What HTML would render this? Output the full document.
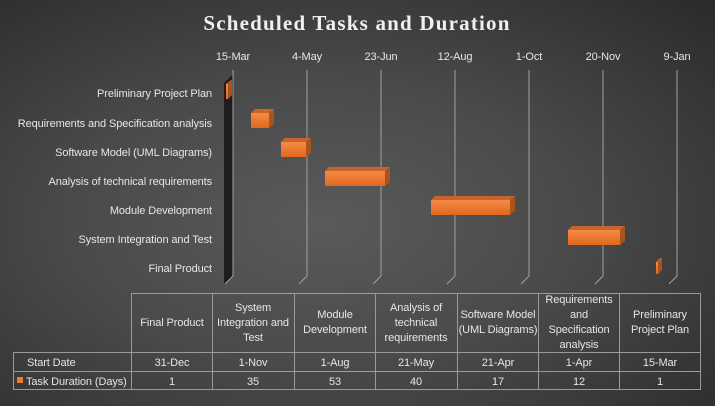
<!DOCTYPE html>
<html><head><meta charset="utf-8"><style>
html,body{margin:0;padding:0;}
body{width:715px;height:406px;overflow:hidden;background:radial-gradient(ellipse at 45% 55%,#5a5a5a 0%,#4a4a4a 45%,#333 85%,#2a2a2a 100%);font-family:"Liberation Sans",sans-serif;}
svg{position:absolute;left:0;top:0;}
text{fill:#e6e6e6;font-family:"Liberation Sans",sans-serif;font-size:11px;letter-spacing:-0.1px;}
</style></head><body>
<svg width="715" height="406" viewBox="0 0 715 406">
<defs>
<linearGradient id="bf" x1="0" y1="0" x2="0" y2="1"><stop offset="0" stop-color="#f58a48"/><stop offset="1" stop-color="#e0681c"/></linearGradient>
</defs>
<text x="357" y="30" text-anchor="middle" style="font-family:'Liberation Serif',serif;font-weight:bold;font-size:21px;letter-spacing:1.2px;fill:#f0f0f0">Scheduled Tasks and Duration</text>
<g text-anchor="middle">
<text x="233" y="60">15-Mar</text><text x="307" y="60">4-May</text><text x="381" y="60">23-Jun</text><text x="455" y="60">12-Aug</text><text x="529" y="60">1-Oct</text><text x="603" y="60">20-Nov</text><text x="677" y="60">9-Jan</text>
</g>
<polygon points="224,83 233,74 233,276 224,284" fill="#1e1e1e"/>
<g stroke="#a0a0a0" stroke-width="1" fill="none">
<polyline points="233,70 233,276 225,284"/>
<polyline points="307,70 307,276 299,284"/>
<polyline points="381,70 381,276 373,284"/>
<polyline points="455,70 455,276 447,284"/>
<polyline points="529,70 529,276 521,284"/>
<polyline points="603,70 603,276 595,284"/>
<polyline points="677,70 677,276 669,284"/>
</g>
<g text-anchor="end">
<text x="212" y="97">Preliminary Project Plan</text>
<text x="212" y="127">Requirements and Specification analysis</text>
<text x="212" y="156">Software Model (UML Diagrams)</text>
<text x="212" y="185">Analysis of technical requirements</text>
<text x="212" y="214">Module Development</text>
<text x="212" y="243">System Integration and Test</text>
<text x="212" y="272">Final Product</text>
</g>
<g>
<g><polygon points="226,84 231,80 232,80 228,84" fill="#c8642a"/><polygon points="228,84 232,80 232,95 228,99" fill="#a9531d"/><rect x="226" y="84" width="2" height="15" fill="url(#bf)"/></g>
<g><polygon points="251,113 255,109 274,109 269,113" fill="#c8642a"/><polygon points="269,113 274,109 274,124 269,128" fill="#a9531d"/><rect x="251" y="113" width="18" height="15" fill="url(#bf)"/></g>
<g><polygon points="281,142 285,138 311,138 306,142" fill="#c8642a"/><polygon points="306,142 311,138 311,153 306,157" fill="#a9531d"/><rect x="281" y="142" width="25" height="15" fill="url(#bf)"/></g>
<g><polygon points="325,171 329,167 390,167 385,171" fill="#c8642a"/><polygon points="385,171 390,167 390,182 385,186" fill="#a9531d"/><rect x="325" y="171" width="60" height="15" fill="url(#bf)"/></g>
<g><polygon points="431,200 435,196 515,196 510,200" fill="#c8642a"/><polygon points="510,200 515,196 515,211 510,215" fill="#a9531d"/><rect x="431" y="200" width="79" height="15" fill="url(#bf)"/></g>
<g><polygon points="568,230 572,226 625,226 620,230" fill="#c8642a"/><polygon points="620,230 625,226 625,241 620,245" fill="#a9531d"/><rect x="568" y="230" width="52" height="15" fill="url(#bf)"/></g>
<g><polygon points="656,262 660,258 662,258 658,262" fill="#c8642a"/><polygon points="658,262 662,258 662,270 658,274" fill="#a9531d"/><rect x="656" y="262" width="2" height="12" fill="url(#bf)"/></g>
</g>
<g stroke="#9a9a9a" stroke-width="1" fill="none">
<rect x="131.5" y="293.5" width="569" height="96"/>
<rect x="13.5" y="352.5" width="687" height="37"/>
<line x1="13.5" y1="371.5" x2="700.5" y2="371.5"/>
<line x1="212.5" y1="293.5" x2="212.5" y2="389.5"/>
<line x1="294.5" y1="293.5" x2="294.5" y2="389.5"/>
<line x1="375.5" y1="293.5" x2="375.5" y2="389.5"/>
<line x1="457.5" y1="293.5" x2="457.5" y2="389.5"/>
<line x1="538.5" y1="293.5" x2="538.5" y2="389.5"/>
<line x1="619.5" y1="293.5" x2="619.5" y2="389.5"/>
</g>
<g text-anchor="middle">
<text x="172" y="326">Final Product</text>
<text x="253" y="311">System</text><text x="253" y="326">Integration and</text><text x="253" y="341">Test</text>
<text x="335" y="318">Module</text><text x="335" y="333">Development</text>
<text x="416" y="311">Analysis of</text><text x="416" y="326">technical</text><text x="416" y="341">requirements</text>
<text x="498" y="318">Software Model</text><text x="498" y="333">(UML Diagrams)</text>
<text x="579" y="303">Requirements</text><text x="579" y="318">and</text><text x="579" y="333">Specification</text><text x="579" y="348">analysis</text>
<text x="660" y="318">Preliminary</text><text x="660" y="333">Project Plan</text>
<text x="172" y="366">31-Dec</text><text x="253" y="366">1-Nov</text><text x="335" y="366">1-Aug</text><text x="416" y="366">21-May</text><text x="498" y="366">21-Apr</text><text x="579" y="366">1-Apr</text><text x="660" y="366">15-Mar</text>
<text x="172" y="385">1</text><text x="253" y="385">35</text><text x="335" y="385">53</text><text x="416" y="385">40</text><text x="498" y="385">17</text><text x="579" y="385">12</text><text x="660" y="385">1</text>
</g>
<text x="27" y="366">Start Date</text>
<rect x="17" y="377" width="6" height="6" fill="#f07a30"/>
<text x="26" y="385">Task Duration (Days)</text>
</svg>
</body></html>
